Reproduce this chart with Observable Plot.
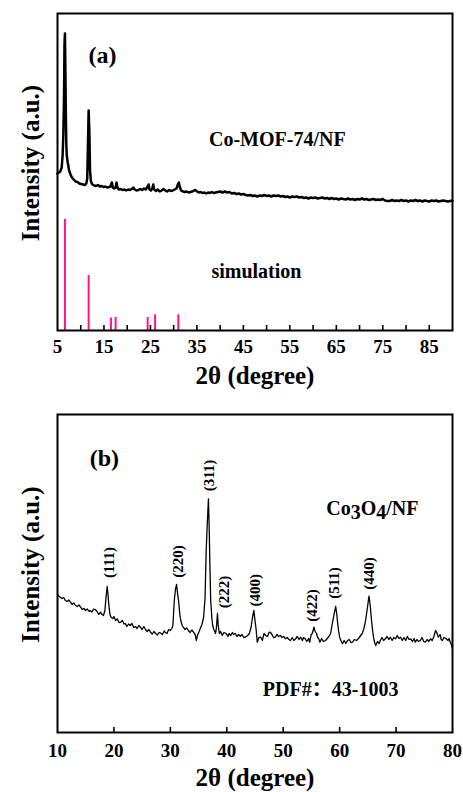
<!DOCTYPE html>
<html><head><meta charset="utf-8">
<script src="https://cdn.jsdelivr.net/npm/d3@7"></script>
<script src="https://cdn.jsdelivr.net/npm/@observablehq/plot@0.6"></script>
<style>body{margin:0;background:#fff} svg{display:block}</style>
</head><body><div id="chart"></div>
<script>
// ---------- Panel (a): Co-MOF-74/NF measured pattern ----------
const topTheta = [5.0,5.3,5.6,5.9,6.1,6.25,6.4,6.5,6.6,6.7,6.8,6.9,7.0,7.2,7.5,7.8,8.1,8.5,8.9,9.3,9.7,10.1,10.5,10.9,11.2,11.4,11.55,11.7,11.85,12.0,12.2,12.5,12.9,13.3,13.7,14.1,14.5,14.9,15.3,15.7,16.1,16.4,16.7,16.9,17.2,17.5,17.7,17.9,18.2,18.6,19.0,19.4,19.8,20.2,20.6,21.0,21.3,21.6,22.0,22.4,22.8,23.2,23.6,24.0,24.4,24.6,24.8,25.1,25.4,25.6,25.8,26.2,26.6,27.0,27.4,27.8,28.2,28.6,29.0,29.4,29.8,30.2,30.6,30.9,31.1,31.3,31.6,32.0,32.4,32.8,33.2,33.6,34.0,34.4,34.7,35.0,35.4,35.8,36.2,36.6,37.0,37.4,37.8,38.2,38.6,39.0,39.5,40.0,40.5,41.0,41.5,42.0,42.5,43.0,43.5,44.0,44.5,45.0,45.5,46.0,46.5,47.0,47.5,48.0,48.5,49.0,49.5,50.0,50.5,51.0,51.5,52.0,52.5,53.0,53.5,54.0,54.5,55.0,55.5,56.0,56.5,57.0,57.5,58.0,58.5,59.0,59.5,60.0,60.5,61.0,61.5,62.0,62.5,63.0,63.5,64.0,64.5,65.0,65.5,66.0,66.5,67.0,67.5,68.0,68.5,69.0,69.5,70.0,70.5,71.0,71.5,72.0,72.5,73.0,73.5,74.0,74.5,75.0,75.5,76.0,76.5,77.0,77.5,78.0,78.5,79.0,79.5,80.0,80.5,81.0,81.5,82.0,82.5,83.0,83.5,84.0,84.5,85.0,85.5,86.0,86.5,87.0,87.5,88.0,88.5,89.0,89.5,90.0];
const topIntensity = [157,158,159,163,175,195,232,285,297,260,215,185,175,168,160,156,153,151,149,148.5,147,146.5,146,145.5,147,152,185,220,200,160,149,146,145,144.5,145.5,144,144.5,143.5,144,143,143.5,144,148,143,142,143,148,143,141,141.5,140.5,141,140,141,140.5,141.5,143,141,140,140.5,141.5,140.5,142,141,144,146,141,140,142,146,141,139.5,141,139,140,141.5,140,139,140.5,139.5,140,141,142,146,148,144,140,139,138.5,139,138,138.5,139,140,140.5,139,138,138.5,137.5,138,137,138,137.5,138.5,137.5,138,138.5,139,138,139,138,138.5,137,137.5,136.5,137,136,136.5,135.5,135,135.5,134.5,135,134,135,134.5,135.5,134.5,135,134,135,134.5,135,134,134.5,133.5,134,133,134,133.5,134,133,133.5,132.5,133,132,133,132.5,133,132,132.5,133,132,132.5,131.5,132.5,131.5,132,131,132,131.5,131,132,131,131.5,130.5,131.5,131,132,131,131.5,130.5,131,131.5,130.5,131,130.5,131.5,130,129.5,129.5,130.5,129.5,130,129.5,130.5,129.5,130,129,130,129.5,130.5,129.5,130,129,130,129.5,129,130,129.5,130,129,129.5,130,129.5,129,129.5,130];
// simulated pattern sticks
const simTheta = [6.6, 11.7, 16.5, 17.5, 24.4, 26.0, 31.0];
const simIntensity = [111, 55, 12.5, 13, 13, 15.7, 15.7];
const topTickLabels = [5,15,25,35,45,55,65,75,85];
const topTickMarks = [10,15,20,25,30,35,40,45,50,55,60,65,70,75,80,85];
const topNoteText = ["(a)", "Co-MOF-74/NF", "simulation"];
const topNoteTheta = [14.7, 52.3, 47.8];
const topNoteY = [275, 191, 59];
const topNoteSize = [24, 20, 20];

// ---------- Panel (b): Co3O4/NF ----------
const botTheta = [10.0,10.3,10.5,10.8,11.1,11.4,11.7,12.0,12.3,12.6,12.9,13.2,13.5,13.8,14.1,14.4,14.7,15.0,15.3,15.6,15.8,16.1,16.4,16.7,17.0,17.3,17.6,17.9,18.15,18.4,18.6,18.8,18.95,19.1,19.3,19.5,19.8,20.0,20.3,20.6,20.9,21.2,21.5,21.8,22.0,22.3,22.6,22.9,23.2,23.5,23.8,24.1,24.4,24.7,25.0,25.3,25.6,25.9,26.2,26.5,26.8,27.1,27.4,27.7,28.0,28.3,28.6,28.9,29.1,29.4,29.7,30.0,30.25,30.45,30.7,30.9,31.1,31.3,31.45,31.7,31.85,32.1,32.3,32.6,32.9,33.2,33.5,33.8,34.1,34.4,34.6,34.8,35.1,35.3,35.6,35.9,36.15,36.35,36.55,36.75,36.9,37.0,37.15,37.35,37.5,37.7,37.8,38.0,38.15,38.35,38.5,38.7,38.9,39.2,39.5,39.9,40.2,40.4,40.7,41.0,41.2,41.5,41.8,42.1,42.4,42.7,43.0,43.3,43.7,44.0,44.3,44.55,44.8,45.0,45.2,45.4,45.7,46.0,46.3,46.6,46.9,47.2,47.5,47.7,48.0,48.3,48.6,48.9,49.2,49.5,49.8,50.1,50.4,50.7,51.0,51.3,51.6,51.9,52.2,52.5,52.8,53.1,53.4,53.6,53.9,54.2,54.5,54.7,54.95,55.15,55.45,55.65,55.9,56.1,56.3,56.5,56.8,57.1,57.5,57.8,58.1,58.4,58.7,59.0,59.3,59.5,59.6,59.8,60.0,60.3,60.5,60.8,61.1,61.4,61.7,62.0,62.3,62.6,63.0,63.3,63.6,64.0,64.3,64.6,64.9,65.2,65.4,65.6,65.8,66.0,66.2,66.4,66.7,67.0,67.2,67.5,67.8,68.1,68.4,68.7,69.0,69.3,69.6,69.9,70.2,70.5,70.8,71.1,71.4,71.7,72.0,72.3,72.6,72.9,73.2,73.4,73.7,74.0,74.3,74.6,74.9,75.2,75.5,75.8,76.1,76.4,76.7,77.0,77.2,77.5,77.8,78.0,78.2,78.5,78.9,79.2,79.4,79.6,79.8,80.0];
const botIntensity = [138,136,135.3,134,135,132,131,132.5,130.3,128,129.5,127,126,127.5,125.3,123,124,122,123.5,121,122,120.5,123.5,123,121,118,120.3,118,117,122,135,146,138,127,118,115.3,114,116,112,113.5,110,110.3,112,108.5,109,106,108.5,107,109,105,106,104,107,105.3,103,106,103,101,103,100.3,98.5,101,99,97.5,100,99.3,98,101.5,100.3,99,103,102,104,107,132,143,148,138,132,117,112,107,105.3,103,104.5,102,100,102.5,100.3,98,92,97,101,104,108,115.3,135,182,210,233.7,200,169,132,115,107,103,102,99,104,119,106,99,101,97,100,99,96,99,97,100,98,99,96,98,96.3,98,95,95.3,97,99,105,115,122,112,103,90.3,95,95.3,92,99,97,96,100,100.3,98,95,95.3,98,96,97,95,96,93.7,95,93,92,95,92,93.7,96,93,95.3,92,95,93.7,91,94,90.3,98,99,105.3,101,99,95,93.7,90.3,94,91,92,94,96,99,109,118,126,118,112,102,95.3,91,88.7,92,89,92,93,90,90.3,93,92,93.7,96,99,104,112,124,136.3,128,115.3,104,95.3,90,87,91,89,92,95,92,93.7,96,93,95.3,92,95,93.7,97,94,95.3,92,95,92,96,93,93.7,91,94,90.3,93,91,92,95,91,90.3,93,91,93.7,92,96,102,100,95.3,98,93,92,95,93.7,92,94,90.3,88,84];
const peakHkl = ["(111)","(220)","(311)","(222)","(400)","(422)","(511)","(440)"];
const peakTheta = [19.1, 31.3, 36.8, 39.6, 45.1, 55.2, 59.1, 65.2];
const peakLabelY = [170, 171, 257, 140.5, 142.3, 127, 149.5, 159];
const botTickLabels = [10,20,30,40,50,60,70,80];
const botTickMarks = [20,30,40,50,60,70];
const botNoteText = ["(b)", "Co3O4/NF", "PDF#：43-1003"];
const botNoteTheta = [18.3, 65.8, 58.4];
const botNoteY = [274, 224, 43];
const botNoteSize = [24, 20, 20];

const xTitle = "2θ (degree)";
const yTitle = "Intensity (a.u.)";

// ---------- build ----------
const font = "'Liberation Serif', 'Times New Roman', 'Noto Sans CJK SC', 'DejaVu Serif', serif";
const zip = (xs, ys) => xs.map((x, i) => ({x, y: ys[i]}));
const notes = (t, xs, ys, ss) => t.map((s, i) => ({text: s, x: xs[i], y: ys[i], size: ss[i]}));

function panel({domain, yMax, height, marginTop, marginBottom, marks, tickLabels, tickMarks, tickPadding, tickInset}) {
  return Plot.plot({
    width: 463, height, marginTop, marginBottom, marginLeft: 57, marginRight: 11,
    style: {fontFamily: font, fontWeight: "bold", background: "white", color: "black", overflow: "visible"},
    x: {domain},
    y: {domain: [0, yMax], axis: null},
    marks: [
      ...marks,
      Plot.ruleX(tickMarks, {insetTop: tickInset, strokeWidth: 1.6, stroke: "black"}),
      Plot.frame({strokeWidth: 2, stroke: "black"}),
      Plot.axisX(tickLabels, {tickSize: 0, tickPadding, fontSize: 19, fontWeight: "bold", label: null}),
      Plot.text([xTitle], {frameAnchor: "bottom", dy: 45, lineAnchor: "middle", textAnchor: "middle", fontSize: 25, fontWeight: "bold"}),
      Plot.text([yTitle], {frameAnchor: "left", rotate: -90, dx: -27, dy: -9, lineAnchor: "middle", textAnchor: "middle", fontSize: 25, fontWeight: "bold"})
    ]
  });
}

const simData = zip(simTheta, simIntensity);
const topPlot = panel({
  domain: [5, 90], yMax: 317, height: 395, marginTop: 13, marginBottom: 65,
  tickLabels: topTickLabels, tickMarks: topTickMarks, tickPadding: 9, tickInset: 312,
  marks: [
    Plot.ruleX(simData, {x: "x", y1: 0, y2: "y", stroke: "#ff148c", strokeWidth: 2}),
    Plot.line(zip(topTheta, topIntensity), {x: "x", y: "y", stroke: "black", strokeWidth: 2.5, strokeLinejoin: "round"}),
    Plot.text(notes(topNoteText, topNoteTheta, topNoteY, topNoteSize), {x: "x", y: "y", text: "text", fontSize: "size", fontWeight: "bold", fill: "black"})
  ]
});

const peaks = peakHkl.map((h, i) => ({text: h, x: peakTheta[i], y: peakLabelY[i]}));
const botPlot = panel({
  domain: [10, 80], yMax: 318, height: 397, marginTop: 19, marginBottom: 60,
  tickLabels: botTickLabels, tickMarks: botTickMarks, tickPadding: 11, tickInset: 313,
  marks: [
    Plot.line(zip(botTheta, botIntensity), {x: "x", y: "y", stroke: "black", strokeWidth: 1.3}),
    Plot.text(peaks, {x: "x", y: "y", text: "text", rotate: -90, fontSize: 15, fontWeight: "bold", fill: "black"}),
    Plot.text(notes(botNoteText, botNoteTheta, botNoteY, botNoteSize), {x: "x", y: "y", text: "text", fontSize: "size", fontWeight: "bold", fill: "black"})
  ]
});

// Co3O4: lowered digits as in the reference
d3.select(botPlot).selectAll("text").filter(function () { return this.textContent === "Co3O4/NF"; })
  .each(function () {
    const t = d3.select(this);
    t.text(null);
    t.append("tspan").text("Co");
    t.append("tspan").attr("dy", "0.18em").text("3");
    t.append("tspan").attr("dy", "-0.18em").text("O");
    t.append("tspan").attr("dy", "0.18em").text("4");
    t.append("tspan").attr("dy", "-0.18em").text("/NF");
  });

const root = document.getElementById("chart");
root.append(topPlot, botPlot);
</script>
</body></html>
